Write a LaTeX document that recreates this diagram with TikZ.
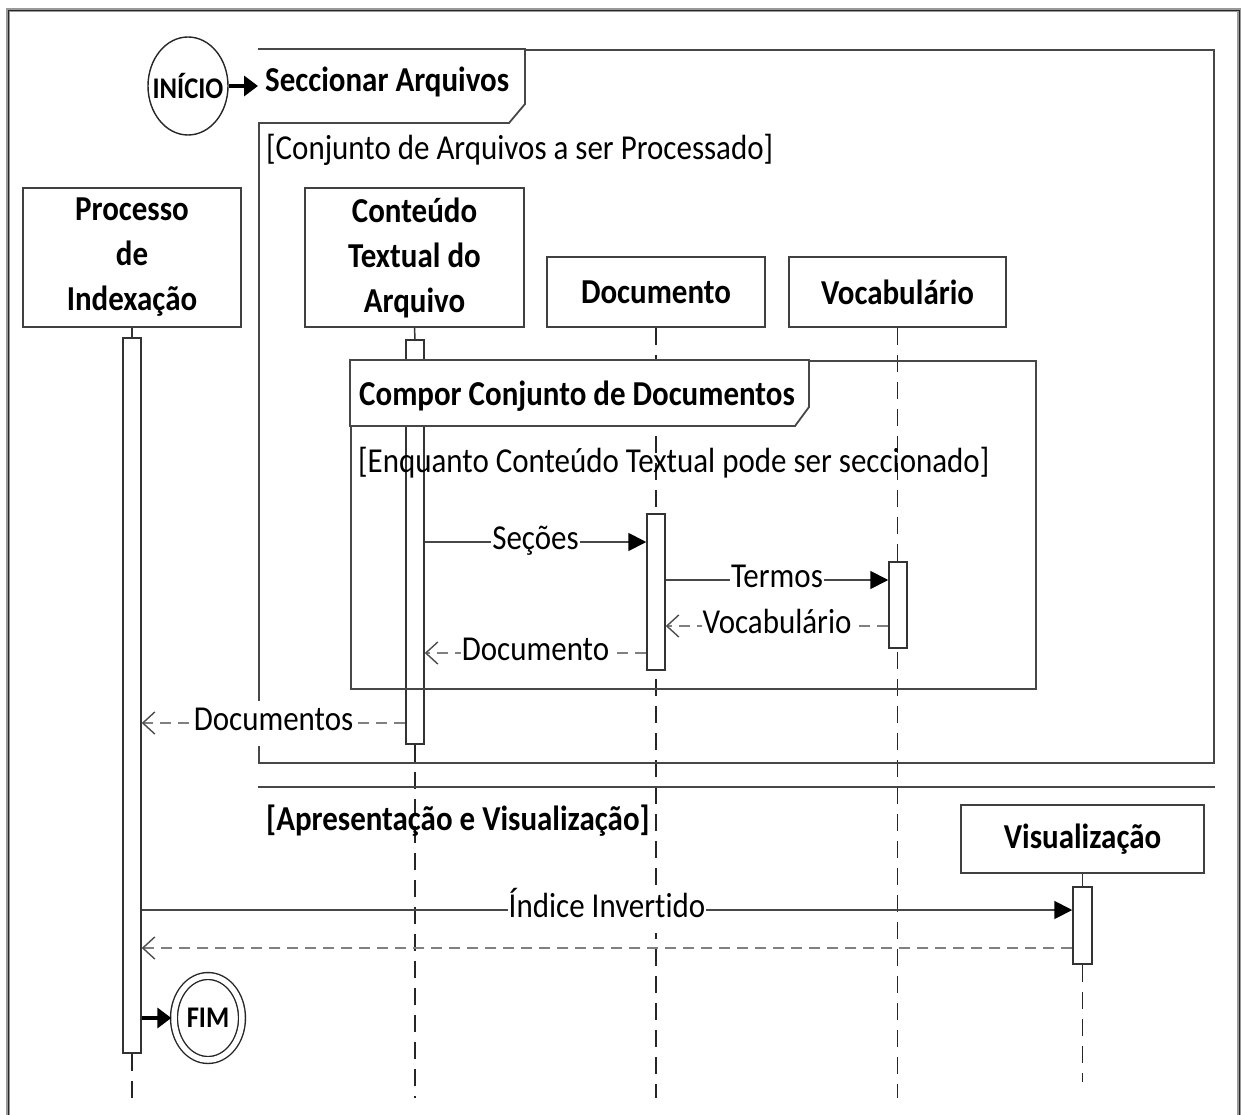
\documentclass[tikz,border=0pt]{standalone}
\usepackage{fontspec}
\setmainfont{Carlito}[FakeStretch=0.885, Ligatures=NoCommon]
\usetikzlibrary{arrows.meta,shapes.geometric,backgrounds}

\begin{document}
\begin{tikzpicture}[x=1pt,y=-1pt,
  txt/.style={font=\fontsize{35}{44}\selectfont, inner sep=0pt},
  bold/.style={font=\fontsize{35}{44}\selectfont\bfseries, inner sep=0pt},
  lifebox/.style={draw=black!75, line width=1.7pt, fill=white, align=center,
    inner sep=0pt, font=\fontsize{35}{45}\selectfont\bfseries},
  actbar/.style={draw=black!80, line width=1.5pt, fill=white, minimum width=18pt, inner sep=0pt},
  lifeline/.style={draw=black!85, line width=1.5pt, dash pattern=on 17pt off 10pt},
  stem/.style={draw=black!80, line width=1.5pt},
  frameline/.style={draw=black!72, line width=1.8pt},
  msg/.style={draw=black!72, line width=1.8pt, -{Triangle[length=18pt,width=18pt,color=black]}},
  ret/.style={draw=black!50, line width=2.8pt, dash pattern=on 11pt off 7pt,
    -{Straight Barb[length=12pt,width=22pt,line width=1.4pt,color=black!70]}},
  lbl/.style={fill=white, inner xsep=1pt, inner ysep=6pt, text height=24pt, text depth=9pt,
    font=\fontsize{35}{44}\selectfont},
  term/.style={draw=black!85, line width=1.4pt, ellipse, inner sep=0pt},
  termtxt/.style={font=\fontsize{30}{36}\selectfont\bfseries, inner sep=0pt},
  startarrow/.style={draw=black, line width=4pt, -{Triangle[length=14pt,width=20pt]}},
]
\useasboundingbox (0,0) rectangle (1241,1115);

% page frame
\draw[black!40, line width=3.5pt] (8,10) rectangle (1239,1130);
\draw[black!85, line width=0.8pt] (8,10) rectangle (1239,1130);

% message levels
\coordinate (ySec) at (0,542);
\coordinate (yTer) at (0,580);
\coordinate (yVoc) at (0,626);
\coordinate (yDoc) at (0,653);
\coordinate (yDocs) at (0,723);
\coordinate (ySep) at (0,787);
\coordinate (yIdx) at (0,910);
\coordinate (yRet) at (0,948);
\coordinate (bot) at (0,1098);
\coordinate (visbot) at (0,1082);

% participants
\node[lifebox, minimum width=218pt, minimum height=139pt] (proc) at (132,257.5) {Processo\\de\\Indexação};
\node[lifebox, minimum width=219pt, minimum height=139pt] (cont) at (414.5,257.5) {Conteúdo\\Textual do\\Arquivo};
\node[lifebox, minimum width=218pt, minimum height=70pt] (doc) at (656,292) {Documento};
\node[lifebox, minimum width=217pt, minimum height=70pt] (voc) at (897.5,292) {Vocabulário};
\node[lifebox, minimum width=243pt, minimum height=68pt] (vis) at (1082.5,839) {Visualização};

% start / end states
\node[term, minimum width=80pt, minimum height=98pt] (ini) at (188,86) {};
\node[termtxt] (iniT) at (ini.center) {INÍCIO};

% outer combined fragment
\node[frameline, minimum width=955pt, minimum height=713pt, anchor=north west, inner sep=0pt] (secF) at (258,49) {};
\draw[frameline, fill=white] (258,49) -- (525,49) -- (525,104) -- (509,123) -- (258,123);
\node[bold, anchor=base west] (secT) at (265,92) {Seccionar Arquivos};

% activation bars
\node[actbar, minimum height=715pt] (procA) at (132,695.5) {};
\node[actbar, minimum height=404pt] (contA) at (415,542) {};
\node[actbar, minimum height=156pt] (docA) at (656,592) {};
\node[actbar, minimum height=86pt] (vocA) at (898,605) {};
\node[actbar, minimum width=19pt, minimum height=77pt] (visA) at (1082.5,925.5) {};

% lifelines
\begin{pgfonlayer}{background}
  \draw[lifeline] (procA.south) -- (procA.south |- bot);
  \draw[lifeline] (contA.south) -- (contA.south |- bot);
  \draw[lifeline] (doc.south) -- (doc.south |- bot);
  \draw[lifeline] (voc.south) -- (voc.south |- bot);
  \draw[lifeline] (visA.south) -- (visA.south |- visbot);
\end{pgfonlayer}
\draw[stem] (proc.south) -- (procA.north);
\draw[stem] (cont.south) -- (contA.north);
\draw[stem] (vis.south) -- (visA.north);

% inner loop fragment
\node[frameline, minimum width=685pt, minimum height=328pt, anchor=north west, inner sep=0pt] (cmpF) at (350,360) {};
\draw[frameline, fill=white] (350,360) -- (809,360) -- (809,407) -- (795,426) -- (350,426) -- cycle;
\node[bold, anchor=base west] (cmpT) at (359,405) {Compor Conjunto de Documentos};

% guards
\node[txt, anchor=base west] (g1) at (266,160) {[Conjunto de Arquivos a ser Processado]};
\node[txt, anchor=base west] (g2) at (358,472) {[Enquanto Conteúdo Textual pode ser seccionado]};

% separator of the second operand
\draw[frameline] (secF.west |- ySep) -- (secF.east |- ySep);
\node[bold, anchor=base west] (g3) at (266,830) {[Apresentação e Visualização]};

% messages
\draw[msg] (contA.east |- ySec) -- (docA.west |- ySec) node[lbl, midway] {Seções};
\draw[msg] (docA.east |- yTer) -- (vocA.west |- yTer) node[lbl, midway] {Termos};
\draw[ret] (vocA.west |- yVoc) -- (docA.east |- yVoc) node[lbl, midway] {Vocabulário};
\draw[ret] (docA.west |- yDoc) -- (contA.east |- yDoc) node[lbl, midway] {Documento};
\draw[ret] (contA.west |- yDocs) -- (procA.east |- yDocs) node[lbl, midway] {Documentos};
\draw[msg] (procA.east |- yIdx) -- (visA.west |- yIdx) node[lbl, midway] {Índice Invertido};
\draw[ret] (visA.west |- yRet) -- (procA.east |- yRet);

% start and end
\draw[startarrow] (ini.east) -- (ini.east -| secF.west);
\node[term, double, double distance=5.5pt, minimum width=68pt, minimum height=84pt] (fim) at (208,1018) {};
\node[termtxt] (fimT) at (fim.center) {FIM};
\draw[startarrow, shorten >=2pt] (procA.east |- fim) -- (fim.west);

\end{tikzpicture}
\end{document}
